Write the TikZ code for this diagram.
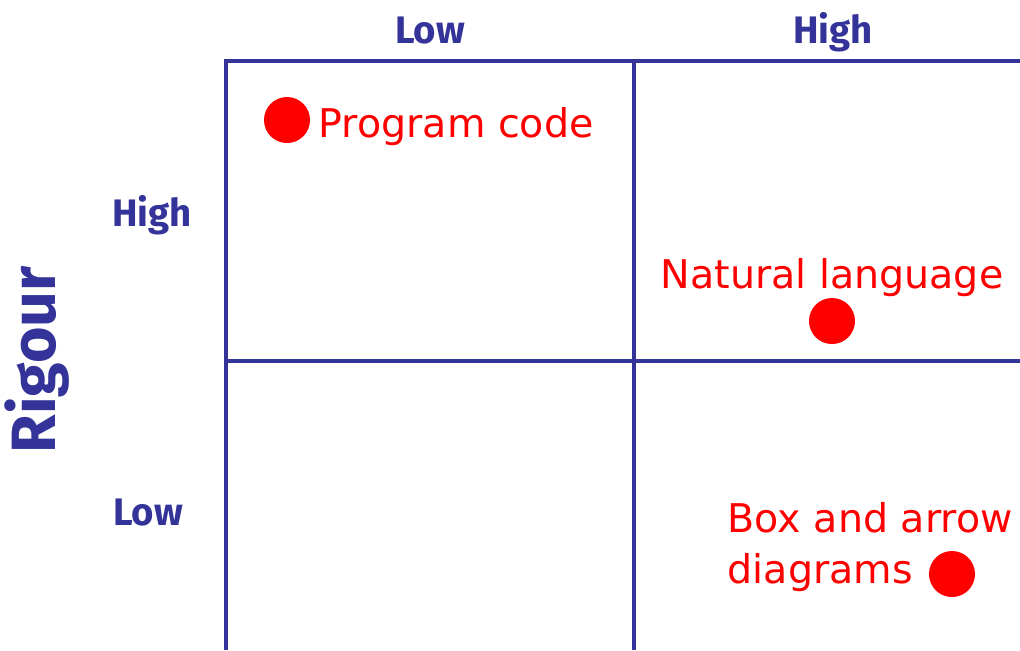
\documentclass[tikz,border=0pt]{standalone}
\usepackage{fontspec}
\setmainfont{DejaVu Sans}
\newfontfamily\axisfont{Fira Sans}
\usetikzlibrary{positioning}
\definecolor{gridblue}{HTML}{333399}
\definecolor{dotred}{HTML}{FF0000}

\begin{document}
\begin{tikzpicture}[x=0.01cm,y=-0.01cm,
	axis/.style={text=gridblue,font=\axisfont\bfseries\fontsize{10.9}{12}\selectfont,inner sep=0pt,anchor=base},
	example/.style={text=dotred,font=\fontsize{11.25}{13}\selectfont,inner sep=0pt,anchor=base west},
	dot/.style={circle,fill=dotred,minimum size=0.46cm,inner sep=0pt},
	gridline/.style={gridblue,line width=0.045cm}]
	\useasboundingbox (0,0) rectangle (1020,650);
	% the grid
	\draw[gridline] (224,61) -- (1020,61);
	\draw[gridline] (226,361) -- (1020,361);
	\foreach \x in {226,634}
		\draw[gridline] (\x,61) -- (\x,650);
	% axis labels
	\node[axis] (lowx) at (430,43) {Low};
	\node[axis] (highx) at (833,43) {High};
	\node[axis] (highy) at (152,226) {High};
	\node[axis] (lowy) at (148,525) {Low};
	\node[axis,font=\axisfont\bfseries\fontsize{17.8}{20}\selectfont,rotate=90] (rigour) at (56,360) {Rigour};
	% examples
	\node[dot] (pc) at (287,120) {};
	\node[example] (pctext) at (318,137) {Program code};
	\node[dot] (nl) at (832,321) {};
	\node[example,anchor=base] (nltext) at (832,288) {Natural language};
	\node[dot] (ba) at (952,574) {};
	\node[example] (batext) at (727,532) {Box and arrow};
	\node[example] (diagtext) at (727,583) {diagrams};
\end{tikzpicture}
\end{document}
